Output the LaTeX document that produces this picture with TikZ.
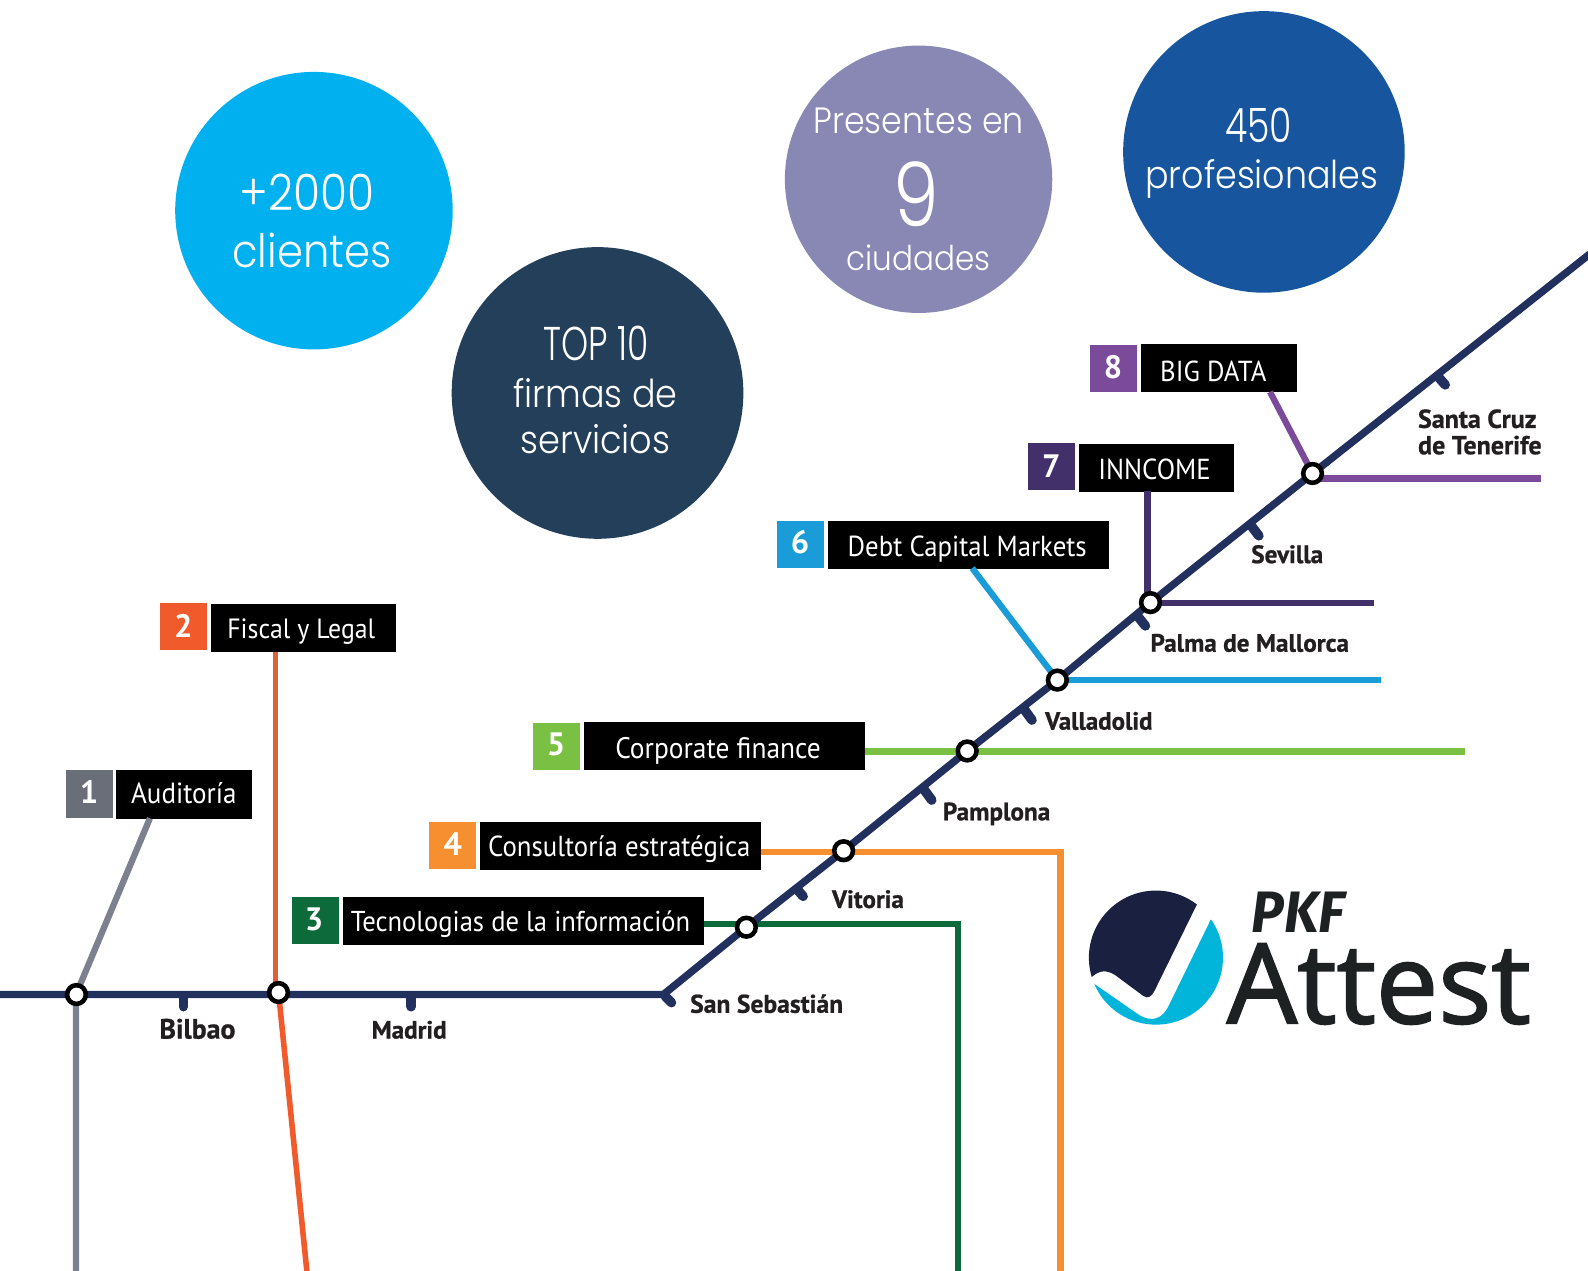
\documentclass[tikz,border=0pt]{standalone}
\usepackage{fontspec}
\usepackage{graphicx}
\setmainfont{PT Sans}
\newfontfamily\circfont{Poppins Light}
\newfontfamily\cityfont[BoldFeatures={FakeBold=0.8}]{PT Sans}
\newfontfamily\attestfont[FakeBold=1.7]{Open Sans}
\newfontfamily\pkffont[BoldFeatures={FakeBold=1.5}]{Fira Sans}
\newcommand{\fitw}[2]{\resizebox{#1pt}{!}{#2}}
\newcommand{\fitl}[2]{\scalebox{1}[1.08]{\resizebox{#1pt}{!}{#2}}}
\newcommand{\fith}[3]{\resizebox{#1pt}{#2pt}{#3}}
\definecolor{navy}{HTML}{22305E}
\definecolor{cOne}{HTML}{7B818E}
\definecolor{cOneB}{HTML}{696E79}
\definecolor{cTwo}{HTML}{F15A2B}
\definecolor{cTwoU}{HTML}{E06038}
\definecolor{cThree}{HTML}{0D6A3A}
\definecolor{cFour}{HTML}{F58F2F}
\definecolor{cFive}{HTML}{7AC143}
\definecolor{cSix}{HTML}{1A9CD8}
\definecolor{cSeven}{HTML}{42306B}
\definecolor{cEight}{HTML}{7B4A9B}
\definecolor{bubA}{HTML}{00B0EF}
\definecolor{bubB}{HTML}{243F5A}
\definecolor{bubC}{HTML}{8987B4}
\definecolor{bubD}{HTML}{17569E}
\definecolor{logoNavy}{HTML}{1A2040}
\definecolor{logoCyan}{HTML}{00B4DA}
\definecolor{logoText}{HTML}{1D2122}
\definecolor{cityText}{HTML}{231F20}
\tikzset{
  mainline/.style={draw=navy,line width=7.3pt},
  tick/.style={draw=navy,line width=9.5pt,line cap=round},
  station/.style={circle,draw=black,fill=white,line width=4.5pt,minimum size=18.5pt,inner sep=0pt},
  branch/.style={line width=6.2pt},
  labbox/.style={fill=black,minimum height=47.5pt,inner sep=0pt},
  numbox/.style={minimum width=46.5pt,minimum height=46.5pt,inner sep=0pt},
  numtext/.style={text=white,inner sep=0pt,anchor=base,font=\fontsize{32}{32}\selectfont\bfseries},
  labtext/.style={text=white,inner sep=0pt,anchor=base,font=\fontsize{28}{28}\selectfont},
  city/.style={text=cityText,inner sep=0pt,anchor=base,font=\cityfont\fontsize{23}{23}\selectfont\bfseries},
  bubble/.style={circle,inner sep=0pt},
  bubtext/.style={text=white,inner sep=0pt,anchor=base,font=\circfont\fontsize{36}{36}\selectfont},
}
\begin{document}
\begin{tikzpicture}[x=1pt,y=-1pt]
\useasboundingbox (0,0) rectangle (1568,1254);
\fill[white] (0,0) rectangle (1568,1254);

% bubbles
\node[bubble,fill=bubA,minimum size=274pt] (bA) at (310,208) {};
\node[bubble,fill=bubB,minimum size=288pt] (bB) at (590,388) {};
\node[bubble,fill=bubC,minimum size=264pt] (bC) at (907,177) {};
\node[bubble,fill=bubD,minimum size=278pt] (bD) at (1248,150) {};
\node[bubtext] (tA1) at (303,208) {\fith{133}{36}{+2000}};
\node[bubtext] (tA2) at (308,264) {\scalebox{1}[1.1]{\fitw{157}{clientes}}};
\node[bubtext] (tB1) at (589,356) {\fith{104}{34}{TOP 10}};
\node[bubtext] (tB2) at (588,402) {\scalebox{1}[1.1]{\fitw{162}{firmas de}}};
\node[bubtext] (tB3) at (588,448) {\scalebox{1}[1.1]{\fitw{148}{servicios}}};
\node[bubtext] (tC1) at (907,132) {\scalebox{1}[1.1]{\fitw{208}{Presentes en}}};
\node[bubtext] (tC2) at (905,224) {\fith{45}{64}{9}};
\node[bubtext] (tC3) at (907,267) {\scalebox{1}[1.1]{\fitw{142}{ciudades}}};
\node[bubtext] (tD1) at (1243,141) {\fith{66}{34}{450}};
\node[bubtext] (tD2) at (1246,186) {\scalebox{1}[1.1]{\fitw{230}{profesionales}}};

% label boxes
\node[numbox,fill=cOneB] (n1) at (88.2,784) {};
\node[labbox,minimum width=133.5pt] (l1) at (181.7,784.5) {};
\node[numbox,fill=cTwo] (n2) at (181.2,619) {};
\node[labbox,minimum width=183.5pt] (l2) at (299.7,619.7) {};
\node[numbox,fill=cThree] (n3) at (311.2,909) {};
\node[labbox,minimum width=356pt] (l3) at (517,909.5) {};
\node[numbox,fill=cFour] (n4) at (447.2,835) {};
\node[labbox,minimum width=277pt] (l4) at (612.5,835.5) {};
\node[numbox,fill=cFive] (n5) at (549.2,737) {};
\node[labbox,minimum width=277pt] (l5) at (715.5,736.5) {};
\node[numbox,fill=cSix] (n6) at (790.2,538) {};
\node[labbox,minimum width=277pt] (l6) at (956.5,537.7) {};
\node[numbox,fill=cSeven] (n7) at (1038.2,461) {};
\node[labbox,minimum width=153pt] (l7) at (1141.5,461.7) {};
\node[numbox,fill=cEight] (n8) at (1099.2,364) {};
\node[labbox,minimum width=153.5pt] (l8) at (1203.7,363.7) {};

\node[numtext] at (88,793) {1};
\node[numtext] at (181,629) {2};
\node[numtext] at (310,919) {3};
\node[numtext] at (447,845) {4};
\node[numtext] at (549,746) {5};
\node[numtext] at (790,547) {6};
\node[numtext] at (1038,471) {7};
\node[numtext] at (1099,374) {8};

\node[labtext] at (181.5,793) {\fitl{104}{Auditoría}};
\node[labtext] at (297.5,630) {\fitl{146}{Fiscal y Legal}};
\node[labtext] at (514,919.5) {\fitl{335}{Tecnologias de la información}};
\node[labtext] at (611.5,846) {\fitl{259}{Consultoría estratégica}};
\node[labtext] at (709,749) {\fitl{203}{Corporate finance}};
\node[labtext] at (955,549) {\fitl{236}{Debt Capital Markets}};
\node[labtext] at (1140,473) {\fitl{111}{INNCOME}};
\node[labtext] at (1198,376.5) {\fitl{105}{BIG DATA}};

% anchor points
\coordinate (sA) at (75.5,982);
\coordinate (sB) at (275,980);
\coordinate (sC) at (737,915.5);
\coordinate (sD) at (833,840);
\coordinate (sE) at (955,741.5);
\coordinate (sF) at (1044,671.5);
\coordinate (sG) at (1136,595);
\coordinate (sH) at (1296,467.5);
\coordinate (west) at (-5,982);
\coordinate (bend) at (655,982);
\coordinate (east) at (1572,249);

% branches
\draw[branch,cOne] (148,808) -- (75,982) -- (75,1260);
\draw[branch,cTwoU,line width=5pt] (272,643.5) -- (272,980);
\draw[branch,cTwo,line width=5.5pt] (sB) -- (303.5,1260);
\draw[branch,cThree] (695,912.5) -- (946,912.5) -- (946,1260);
\draw[branch,cFour] (751,841) -- (1047,841) -- (1047,1260);
\draw[branch,cFive] (854,742) -- (1447,742);
\draw[branch,cSix] (960,561) -- (sF);
\draw[branch,cSix] (1044,671.5) -- (1364,671.5);
\draw[branch,cSeven] (1133,485) -- (1133,595);
\draw[branch,cSeven] (1136,595.5) -- (1357,595.5);
\draw[branch,cEight] (1254,387) -- (sH);
\draw[branch,cEight] (1296,472.5) -- (1522,472.5);

% main line and ticks
\draw[tick] (181,984) -- (181,994);
\draw[tick] (406,984) -- (406,994);
\draw[tick] (657,984) -- (663,990);
\draw[tick] (787,878) -- (793,885);
\draw[tick] (912,779) -- (920,790);
\draw[tick] (1011,700) -- (1019,711);
\draw[tick] (1123,608) -- (1131,618);
\draw[tick] (1235,518.5) -- (1243,529);
\draw[tick] (1420,372) -- (1427,380);
\draw[mainline,line join=round] (west) -- (bend) -- (sC) -- (sD) -- (sE) -- (sF) -- (sG) -- (sH) -- (east);

% stations
\node[station] (stA) at (sA) {};
\node[station] (stB) at (sB) {};
\node[station] (stC) at (sC) {};
\node[station] (stD) at (sD) {};
\node[station] (stE) at (sE) {};
\node[station] (stF) at (sF) {};
\node[station] (stG) at (sG) {};
\node[station] (stH) at (sH) {};

% city labels
\node[city] at (195,1025.5) {\fitw{75}{Bilbao}};
\node[city] at (404,1025.5) {\fitw{74}{Madrid}};
\node[city] at (757,1000) {\fitw{151}{San Sebastián}};
\node[city] at (857,896.5) {\fitw{71}{Vitoria}};
\node[city] at (984,810) {\fitw{106}{Pamplona}};
\node[city] at (1085,720.5) {\fitw{106}{Valladolid}};
\node[city] at (1234,643.5) {\fitw{196}{Palma de Mallorca}};
\node[city] at (1271,556) {\fitw{71}{Sevilla}};
\node[city,anchor=base west] at (1400,422.5) {\fitw{117}{Santa Cruz}};
\node[city,anchor=base west] at (1400,448.5) {\fitw{122}{de Tenerife}};

% logo
\begin{scope}[shift={(1046.6,849.1)},x=.3291pt,y=-.3291pt]
  \begin{scope}
    \clip (288,293) circle [radius=66.2pt];
    \fill[logoNavy] (60,365) -- (97,350) .. controls (120,330) and (140,330) .. (165,345) -- (250,408) .. controls (265,418) and (275,410) .. (285,390) -- (420,115) -- (300,0) -- (0,0) -- cycle;
    \fill[logoCyan] (70,350) -- (103,372) -- (230,460) .. controls (280,495) and (310,470) .. (325,440) -- (452,180) -- (500,150) -- (600,300) -- (300,600) -- (0,500) -- cycle;
  \end{scope}
  \node[inner sep=0pt,anchor=base west,text=logoText] (pkf) at (575,218) {\resizebox{92pt}{40pt}{\pkffont\bfseries\itshape PKF}};
  \node[inner sep=0pt,anchor=base west,text=logoText] (attest) at (500,490) {\resizebox{300pt}{!}{\attestfont\fontsize{104}{104}\selectfont Attest}};
\end{scope}
\end{tikzpicture}
\end{document}
